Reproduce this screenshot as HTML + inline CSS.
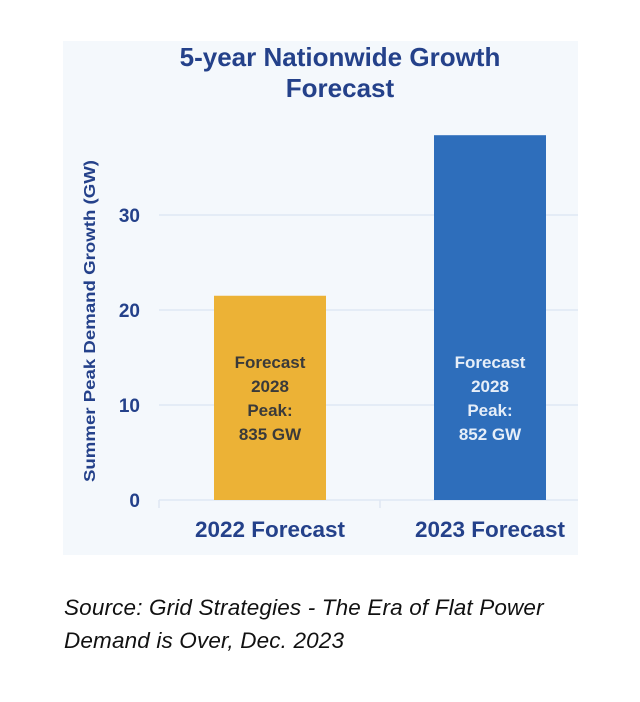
<!DOCTYPE html>
<html><head><meta charset="utf-8"><style>
body{margin:0;background:#fff;width:640px;height:702px;overflow:hidden;font-family:"Liberation Sans",sans-serif}
.src{position:absolute;left:64px;top:591px;font-size:22.5px;font-style:italic;color:#111;line-height:33px;letter-spacing:0.15px}
</style></head><body>
<svg width="640" height="702" style="position:absolute;left:0;top:0">
<rect x="63" y="41" width="515" height="514" fill="#f4f8fc"/>
<text x="340" y="66" text-anchor="middle" font-size="26" font-weight="bold" fill="#24418a">5-year Nationwide Growth</text>
<text x="340" y="97" text-anchor="middle" font-size="26" font-weight="bold" fill="#24418a">Forecast</text>
<text transform="translate(95,321) rotate(-90)" text-anchor="middle" font-size="15.5" font-weight="bold" fill="#24418a" textLength="322" lengthAdjust="spacingAndGlyphs">Summer Peak Demand Growth (GW)</text>
<g id="grid"></g><g id="bars"></g>
</svg>
<div class="src">Source: Grid Strategies - The Era of Flat Power<br>Demand is Over, Dec. 2023</div>
<script>
const categories=["2022 Forecast","2023 Forecast"];
const values=[21.5,38.4];
const barLabels=[["Forecast","2028","Peak:","835 GW"],["Forecast","2028","Peak:","852 GW"]];
const ticks=[0,10,20,30];
const colors=["#ecb236","#2e6ebb"];
const textColors=["#3a3a3a","#e6eef8"];
const NS="http://www.w3.org/2000/svg";
const y=v=>500-v*9.5;
const xc=i=>270+i*220;
function mk(t,a,p){const e=document.createElementNS(NS,t);for(const k in a)e.setAttribute(k,a[k]);p.appendChild(e);return e;}
const g=document.getElementById('grid'),b=document.getElementById('bars');
ticks.forEach(t=>{
 const l=mk('line',{x1:159,x2:578,y1:y(t),y2:y(t),stroke:'#dfe7f3','stroke-width':1.5},g);
 
 
 const tx=mk('text',{x:140,y:y(t)+7,'text-anchor':'end','font-size':19,'font-weight':'bold',fill:'#24418a'},g);
 tx.textContent=t;
 
 
});
mk('line',{x1:380,x2:380,y1:500,y2:508,stroke:'#dfe7f3','stroke-width':1.5},g);
mk('line',{x1:159,x2:159,y1:500,y2:508,stroke:'#dfe7f3','stroke-width':1.5},g);
categories.forEach((c,i)=>{
 const r=mk('rect',{x:xc(i)-56,y:y(values[i]),width:112,height:500-y(values[i]),fill:colors[i]},b);
 
 
 barLabels[i].forEach((s,j)=>{
  const t=mk('text',{x:xc(i),y:368+j*24,'text-anchor':'middle','font-size':17,'font-weight':'bold',fill:textColors[i]},b);
  t.textContent=s;
  
  
 });
 const xl=mk('text',{x:xc(i),y:537,'text-anchor':'middle','font-size':22.5,'font-weight':'bold',fill:'#24418a'},b);
 xl.textContent=c;
 
 
});
</script>
</body></html>
